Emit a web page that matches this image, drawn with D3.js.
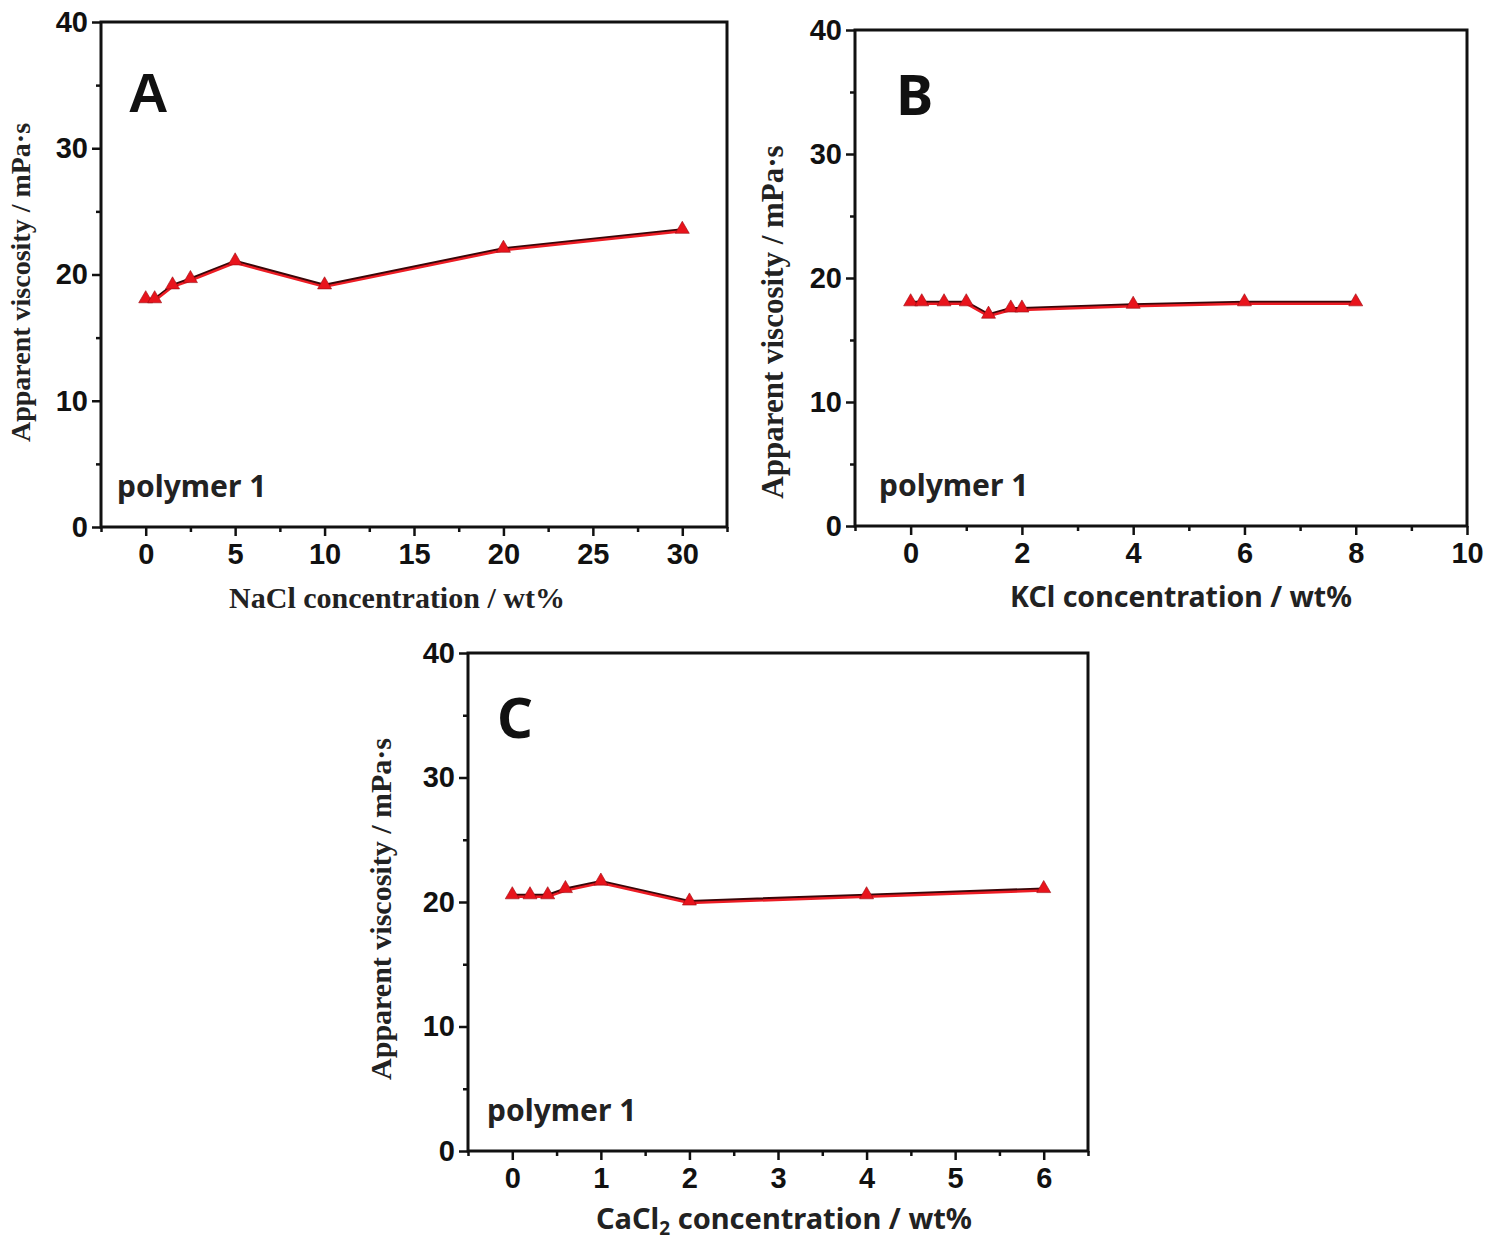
<!DOCTYPE html>
<html>
<head>
<meta charset="utf-8">
<script src="https://cdn.jsdelivr.net/npm/d3@7"></script>
<style>
  body { margin: 0; background: #fff; }
  .tick text { font-family: "Liberation Sans", Arial, sans-serif; font-weight: bold; fill: #111; }
  .tick line { stroke: #111; stroke-width: 2.5; }
</style>
</head>
<body>
<div id="chart"></div>
<script>
// values
const viscTicks = [0, 10, 20, 30, 40];

const naclConc = [0, 0.5, 1.5, 2.5, 5, 10, 20, 30];
const naclVisc = [18, 18, 19.1, 19.6, 21, 19.1, 22, 23.5];
const naclTicks = [0, 5, 10, 15, 20, 25, 30];

const kclConc = [0, 0.2, 0.6, 1.0, 1.4, 1.8, 2.0, 4, 6, 8];
const kclVisc = [18, 18, 18, 18, 17, 17.5, 17.5, 17.8, 18, 18];
const kclTicks = [0, 2, 4, 6, 8, 10];

const cacl2Conc = [0, 0.2, 0.4, 0.6, 1, 2, 4, 6];
const cacl2Visc = [20.5, 20.5, 20.5, 21, 21.6, 20, 20.5, 21];
const cacl2Ticks = [0, 1, 2, 3, 4, 5, 6];

const svg = d3.select('#chart').append('svg')
    .attr('width', 1491).attr('height', 1247);

const panels = [
    { letter: 'A', xs: naclConc, ys: naclVisc, ticks: naclTicks, minorStep: 2.5,
      xDomain: [-2.5, 32.5], box: { left: 101, right: 727, top: 22, bottom: 527 },
      letterPos: [27, 90], labelX: 16, yTitle: { x: -71, dy: 8, size: 28 },
      xTitle: 'NaCl concentration / wt%', xTitleSerif: true, xTitleSize: 30, xTitleShift: -17,
      letterFont: '"Liberation Sans", Arial' },
    { letter: 'B', xs: kclConc, ys: kclVisc, ticks: kclTicks, minorStep: 1,
      xDomain: [-1, 10], box: { left: 855, right: 1467, top: 30, bottom: 526 },
      letterPos: [41, 85], labelX: 24, yTitle: { x: -72, dy: 44, size: 31 },
      xTitle: 'KCl concentration / wt%', xTitleSerif: false, xTitleSize: 28.5, xTitleShift: 20,
      letterFont: '"Noto Sans"' },
    { letter: 'C', xs: cacl2Conc, ys: cacl2Visc, ticks: cacl2Ticks, minorStep: 0.5,
      xDomain: [-0.5, 6.5], box: { left: 468, right: 1088, top: 653, bottom: 1151 },
      letterPos: [29, 85], labelX: 19, yTitle: { x: -77, dy: 7, size: 30 },
      xTitle: 'CaCl2 concentration / wt%', xTitleSerif: false, xTitleSize: 29, xTitleShift: 6,
      letterFont: '"Noto Sans"', sub: true }
];

panels.forEach(drawPanel);

function drawPanel(p) {
    const b = p.box;
    const w = b.right - b.left;
    const h = b.bottom - b.top;
    const g = svg.append('g').attr('transform', `translate(${b.left},${b.top})`);

    const xScale = d3.scaleLinear().domain(p.xDomain).range([0, w]);
    const yScale = d3.scaleLinear().domain([0, 40]).range([h, 0]);

    // minor ticks first
    const xMinor = d3.range(p.xDomain[0], p.xDomain[1] + 1e-9, p.minorStep)
        .filter(v => !p.ticks.some(t => Math.abs(t - v) < 1e-9));
    g.append('g').attr('class', 'x minor')
        .attr('transform', `translate(0,${h})`)
        .call(d3.axisBottom(xScale).tickValues(xMinor).tickSize(5).tickFormat(''))
        .call(a => a.select('.domain').remove());
    g.append('g').attr('class', 'y minor')
        .call(d3.axisLeft(yScale).tickValues([5, 15, 25, 35]).tickSize(5).tickFormat(''))
        .call(a => a.select('.domain').remove());

    // major ticks
    const xAxis = g.append('g').attr('class', 'x axis')
        .attr('transform', `translate(0,${h})`)
        .call(d3.axisBottom(xScale).tickValues(p.ticks).tickFormat(d3.format('~g'))
            .tickSize(9).tickPadding(7))
        .call(a => a.select('.domain').remove());
    xAxis.selectAll('text').style('font-size', '29px');

    const yAxis = g.append('g').attr('class', 'y axis')
        .call(d3.axisLeft(yScale).tickValues(viscTicks).tickSize(9).tickPadding(4))
        .call(a => a.select('.domain').remove());
    yAxis.selectAll('text').style('font-size', '29px');

    // frame
    g.append('rect')
        .attr('width', w).attr('height', h)
        .attr('fill', 'none').attr('stroke', '#111').attr('stroke-width', 3);

    // series: dark edge + red line
    const line = d3.line().x(i => xScale(p.xs[i])).y(i => yScale(p.ys[i]));
    const idx = d3.range(p.xs.length);
    g.append('path').datum(idx).attr('d', line)
        .attr('transform', 'translate(0,-0.8)')
        .attr('fill', 'none').attr('stroke', '#3a0608').attr('stroke-width', 2.6);
    g.append('path').datum(idx).attr('d', line)
        .attr('transform', 'translate(0,1)')
        .attr('fill', 'none').attr('stroke', '#ec1c24').attr('stroke-width', 2.4);

    g.selectAll('.pt').data(idx).enter()
        .append('path')
        .attr('class', 'pt')
        .attr('d', d3.symbol(d3.symbolTriangle, 85))
        .attr('transform', i => `translate(${xScale(p.xs[i])},${yScale(p.ys[i]) - 1})`)
        .attr('fill', '#e8141c')
        .attr('stroke', '#9a0a10').attr('stroke-width', 0.6);

    // panel letter
    g.append('text')
        .attr('x', p.letterPos[0]).attr('y', p.letterPos[1])
        .style('font-family', p.letterFont + ', sans-serif')
        .style('font-weight', 'bold')
        .style('font-size', '56px')
        .style('fill', '#111')
        .text(p.letter);

    // polymer label
    g.append('text')
        .attr('x', p.labelX).attr('y', h - 30)
        .style('font-family', '"Noto Sans", sans-serif')
        .style('font-weight', 'bold')
        .style('font-size', '30px')
        .style('fill', '#222')
        .text('polymer 1');

    // y title
    g.append('text')
        .attr('transform', `translate(${p.yTitle.x},${h / 2 + p.yTitle.dy}) rotate(-90)`)
        .attr('text-anchor', 'middle')
        .style('font-family', '"Liberation Serif", "Times New Roman", serif')
        .style('font-weight', 'bold')
        .style('font-size', p.yTitle.size + 'px')
        .style('fill', '#222')
        .text('Apparent viscosity / mPa·s');

    // x title
    const xt = g.append('text')
        .attr('x', w / 2 + p.xTitleShift).attr('y', h + 81)
        .attr('text-anchor', 'middle')
        .style('font-family', p.xTitleSerif ? '"Liberation Serif", "Times New Roman", serif' : '"Noto Sans", sans-serif')
        .style('font-weight', 'bold')
        .style('font-size', p.xTitleSize + 'px')
        .style('fill', '#222');
    if (p.sub) {
        xt.attr('y', h + 78);
        xt.append('tspan').text('CaCl');
        xt.append('tspan').text('2').attr('dy', 6).style('font-size', '19px');
        xt.append('tspan').text(' concentration / wt%').attr('dy', -6);
    } else {
        xt.text(p.xTitle);
    }
}
</script>
</body>
</html>
